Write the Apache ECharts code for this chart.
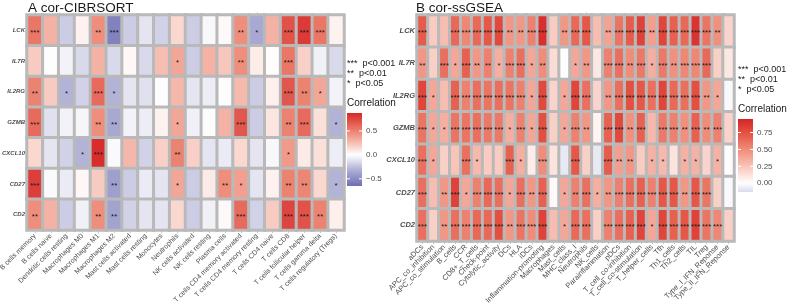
<!DOCTYPE html>
<html>
<head>
<meta charset="utf-8">
<script src="https://cdn.jsdelivr.net/npm/echarts@6/dist/echarts.min.js"></script>
<style>
  html, body { margin: 0; padding: 0; background: #fff; }
  #chart { width: 787px; height: 304px; }
</style>
</head>
<body>
<div id="chart"></div>
<script>
// genes (rows), shared by both panels
var genes = ['LCK', 'IL7R', 'IL2RG', 'GZMB', 'CXCL10', 'CD27', 'CD2'];

// panel A: CIBERSORT cell types
var cellsA = ['B cells memory', 'B cells naive', 'Dendritic cells resting', 'Macrophages M0', 'Macrophages M1',
    'Macrophages M2', 'Mast cells activated', 'Mast cells resting', 'Monocytes', 'Neutrophils',
    'NK cells activated', 'NK cells resting', 'Plasma cells', 'T cells CD4 memory activated',
    'T cells CD4 memory resting', 'T cells CD4 naive', 'T cells CD8', 'T cells follicular helper',
    'T cells gamma delta', 'T cells regulatory (Tregs)'];

var corA_LCK    = [0.55, 0.3, -0.2, 0.05, 0.45, -0.55, -0.2, -0.1, -0.18, 0.15, -0.2, -0.03, 0.02, 0.45, -0.35, 0.3, 0.7, 0.8, 0.55, 0.05];
var corA_IL7R   = [0.2, 0, -0.05, -0.15, 0.3, -0.15, 0.03, -0.15, 0.25, 0.35, -0.2, 0.3, 0.22, 0.45, 0.07, 0.01, 0.55, 0.18, -0.06, -0.15];
var corA_IL2RG  = [0.5, 0.2, -0.3, -0.18, 0.6, -0.3, -0.1, -0.12, 0, 0.28, -0.1, -0.07, 0, 0.27, -0.2, 0.06, 0.68, 0.5, 0.35, -0.05];
var corA_GZMB   = [0.6, -0.12, -0.05, -0.04, 0.45, -0.35, -0.05, -0.07, 0.05, 0.35, -0.06, -0.01, 0.3, 0.68, -0.2, 0.1, 0.5, 0.6, 0.12, -0.3];
var corA_CXCL10 = [0.15, -0.1, -0.18, -0.3, 0.85, -0.02, 0.28, -0.18, 0.18, 0.5, 0.18, -0.1, -0.08, 0.15, -0.1, -0.03, 0.4, 0.08, 0.12, -0.07];
var corA_CD27   = [0.78, -0.02, -0.08, 0.03, 0.2, -0.4, -0.2, -0.08, -0.1, 0.35, -0.2, 0.08, 0.45, 0.38, -0.1, 0.05, 0.5, 0.48, 0.15, -0.3];
var corA_CD2    = [0.45, 0.3, -0.2, -0.06, 0.45, -0.38, -0.18, -0.1, -0.1, 0.15, -0.2, -0.06, 0.02, 0.6, -0.18, 0.2, 0.75, 0.7, 0.5, 0.06];

// number of stars (3: p<0.001, 2: p<0.01, 1: p<0.05)
var sigA_LCK    = [3, 0, 0, 0, 2, 3, 0, 0, 0, 0, 0, 0, 0, 2, 1, 0, 3, 3, 3, 0];
var sigA_IL7R   = [0, 0, 0, 0, 0, 0, 0, 0, 0, 1, 0, 0, 0, 2, 0, 0, 3, 0, 0, 0];
var sigA_IL2RG  = [2, 0, 1, 0, 3, 1, 0, 0, 0, 0, 0, 0, 0, 0, 0, 0, 3, 2, 1, 0];
var sigA_GZMB   = [3, 0, 0, 0, 2, 2, 0, 0, 0, 1, 0, 0, 0, 3, 0, 0, 2, 3, 0, 1];
var sigA_CXCL10 = [0, 0, 0, 1, 3, 0, 0, 0, 0, 2, 0, 0, 0, 0, 0, 0, 1, 0, 0, 0];
var sigA_CD27   = [3, 0, 0, 0, 0, 2, 0, 0, 0, 1, 0, 0, 2, 1, 0, 0, 2, 2, 0, 1];
var sigA_CD2    = [2, 0, 0, 0, 2, 2, 0, 0, 0, 0, 0, 0, 0, 3, 0, 0, 3, 3, 2, 0];

// panel B: ssGSEA immune signatures
var cellsB = ['aDCs', 'APC_co_inhibition', 'APC_co_stimulation', 'B_cells', 'CCR', 'CD8+_T_cells', 'Check-point',
    'Cytolytic_activity', 'DCs', 'HLA', 'iDCs', 'Inflammation-promoting', 'Macrophages', 'Mast_cells',
    'MHC_class_I', 'Neutrophils', 'NK_cells', 'Parainflammation', 'pDCs', 'T_cell_co-inhibition',
    'T_cell_co-stimulation', 'T_helper_cells', 'Tfh', 'Th1_cells', 'Th2_cells', 'TIL', 'Treg',
    'Type_I_IFN_Reponse', 'Type_II_IFN_Reponse'];

var corB_LCK    = [0.7, 0.22, 0.28, 0.65, 0.52, 0.65, 0.72, 0.78, 0.45, 0.45, 0.55, 0.9, 0.22, 0.45, 0.65, 0.72, 0.28, 0.4, 0.6, 0.7, 0.82, 0.42, 0.8, 0.68, 0.65, 0.88, 0.6, 0.48, 0.18];
var corB_IL7R   = [0.45, 0.2, 0.62, 0.38, 0.68, 0.45, 0.55, 0.35, 0.55, 0.62, 0.38, 0.5, 0.15, 0.0, 0.38, 0.45, 0.1, 0.55, 0.62, 0.5, 0.58, 0.35, 0.58, 0.48, 0.52, 0.52, 0.65, 0.2, 0.1];
var corB_IL2RG  = [0.8, 0.38, 0.28, 0.68, 0.55, 0.62, 0.6, 0.62, 0.6, 0.55, 0.38, 0.78, 0.18, 0.38, 0.8, 0.62, 0.18, 0.45, 0.62, 0.75, 0.72, 0.62, 0.8, 0.65, 0.62, 0.75, 0.45, 0.38, -0.02];
var corB_GZMB   = [0.6, 0.38, 0.35, 0.6, 0.6, 0.62, 0.58, 0.58, 0.35, 0.55, 0.38, 0.75, 0.2, 0.38, 0.55, 0.45, 0.05, 0.68, 0.78, 0.48, 0.68, 0.3, 0.58, 0.55, 0.48, 0.68, 0.5, 0.55, 0.18];
var corB_CXCL10 = [0.62, 0.38, 0.2, 0.25, 0.62, 0.3, 0.22, 0.22, 0.68, 0.35, 0.08, 0.5, 0.12, -0.08, 0.72, 0.2, -0.08, 0.7, 0.42, 0.45, 0.22, 0.33, 0.3, 0.12, 0.33, 0.33, 0.18, 0.33, 0.0];
var corB_CD27   = [0.62, 0.28, 0.45, 0.82, 0.38, 0.55, 0.65, 0.62, 0.38, 0.62, 0.45, 0.68, 0.03, 0.38, 0.55, 0.62, 0.35, 0.45, 0.55, 0.62, 0.68, 0.55, 0.72, 0.72, 0.45, 0.72, 0.6, 0.2, -0.02];
var corB_CD2    = [0.62, 0.2, 0.45, 0.62, 0.55, 0.65, 0.65, 0.75, 0.45, 0.6, 0.5, 0.82, 0.28, 0.38, 0.65, 0.62, 0.2, 0.55, 0.62, 0.68, 0.8, 0.38, 0.8, 0.68, 0.72, 0.82, 0.6, 0.52, 0.2];

var sigB_LCK    = [3, 0, 0, 3, 3, 3, 3, 3, 2, 2, 3, 3, 0, 2, 3, 3, 0, 2, 3, 3, 3, 2, 3, 3, 3, 3, 3, 2, 0];
var sigB_IL7R   = [2, 0, 3, 1, 3, 2, 2, 1, 3, 3, 1, 2, 0, 0, 1, 2, 0, 3, 3, 2, 3, 1, 3, 2, 3, 3, 3, 0, 0];
var sigB_IL2RG  = [3, 1, 0, 3, 3, 3, 3, 3, 3, 3, 1, 3, 0, 1, 3, 3, 0, 2, 3, 3, 3, 3, 3, 3, 3, 3, 2, 1, 0];
var sigB_GZMB   = [3, 1, 1, 3, 3, 3, 3, 3, 1, 3, 1, 3, 0, 1, 3, 2, 0, 3, 3, 2, 3, 0, 3, 3, 2, 3, 2, 3, 0];
var sigB_CXCL10 = [3, 1, 0, 0, 3, 1, 0, 0, 3, 1, 0, 3, 0, 0, 3, 0, 0, 3, 2, 2, 0, 1, 1, 0, 1, 1, 0, 1, 0];
var sigB_CD27   = [3, 0, 2, 3, 1, 3, 3, 3, 1, 3, 2, 3, 0, 1, 2, 3, 1, 2, 3, 3, 3, 3, 3, 3, 2, 3, 3, 0, 0];
var sigB_CD2    = [3, 0, 2, 3, 3, 3, 3, 3, 2, 3, 3, 3, 0, 1, 3, 3, 0, 3, 3, 3, 3, 1, 3, 3, 3, 3, 3, 3, 0];

var ticksA = [0.5, 0, -0.5];
var ticksB = [0.75, 0.5, 0.25, 0];

var corA = [corA_LCK, corA_IL7R, corA_IL2RG, corA_GZMB, corA_CXCL10, corA_CD27, corA_CD2];
var sigA = [sigA_LCK, sigA_IL7R, sigA_IL2RG, sigA_GZMB, sigA_CXCL10, sigA_CD27, sigA_CD2];
var corB = [corB_LCK, corB_IL7R, corB_IL2RG, corB_GZMB, corB_CXCL10, corB_CD27, corB_CD2];
var sigB = [sigB_LCK, sigB_IL7R, sigB_IL2RG, sigB_GZMB, sigB_CXCL10, sigB_CD27, sigB_CD2];

var FONT = '"Liberation Sans", Arial, sans-serif';

// colour ramps (blue - white - red, white at 0)
var rangeA = [-0.65, 0.875];
var rangeB = [-0.13, 0.95];
var stopsA = [[-0.65, [110, 110, 180]], [-0.3, [178, 178, 216]], [0, [255, 255, 255]],
    [0.25, [246, 190, 178]], [0.5, [237, 130, 112]], [0.875, [214, 40, 40]]];
var stopsB = [[-0.13, [218, 218, 238]], [0, [255, 255, 255]], [0.25, [248, 196, 184]],
    [0.5, [240, 140, 122]], [0.75, [228, 80, 64]], [0.95, [214, 36, 40]]];

function colorAt(stops, v) {
    if (v <= stops[0][0]) return stops[0][1];
    for (var i = 1; i < stops.length; i++) {
        if (v <= stops[i][0]) {
            var a = stops[i - 1], b = stops[i];
            var t = (v - a[0]) / (b[0] - a[0]);
            return [0, 1, 2].map(function (k) { return Math.round(a[1][k] + (b[1][k] - a[1][k]) * t); });
        }
    }
    return stops[stops.length - 1][1];
}
function rgb(c) { return 'rgb(' + c[0] + ',' + c[1] + ',' + c[2] + ')'; }
function sampleColors(stops, range, n) {
    var out = [];
    for (var i = 0; i < n; i++) out.push(rgb(colorAt(stops, range[0] + (range[1] - range[0]) * i / (n - 1))));
    return out;
}
function gradient(stops, range) {
    var cs = [];
    for (var i = 0; i <= 30; i++) {
        var v = range[1] - (range[1] - range[0]) * i / 30;
        cs.push({offset: i / 30, color: rgb(colorAt(stops, v))});
    }
    return {type: 'linear', x: 0, y: 0, x2: 0, y2: 1, colorStops: cs};
}

function toData(cor) {
    var d = [];
    cor.forEach(function (row, y) {
        row.forEach(function (v, x) { d.push([x, y, v]); });
    });
    return d;
}

function stars(sig) {
    return function (p) { return '***'.slice(0, sig[p.data[1]][p.data[0]]); };
}

var GRAY = '#b9b9b9';

function colorbar(x, y, h, range, stops, ticks, digits, starY, titleY) {
    var w = 15;
    var els = [];
    var lines = ['***  p<0.001', '**  p<0.01', '*  p<0.05'];
    lines.forEach(function (s, i) {
        els.push({type: 'text', left: x, top: starY + i * 10 - 5,
            style: {text: s, font: '9px ' + FONT, fill: '#1a1a1a'}});
    });
    els.push({type: 'text', left: x, top: titleY - 6,
        style: {text: 'Correlation', font: '10px ' + FONT, fill: '#1a1a1a'}});
    els.push({type: 'rect', shape: {x: x, y: y, width: w, height: h}, style: {fill: gradient(stops, range)}});
    ticks.forEach(function (t) {
        var ty = y + (range[1] - t) / (range[1] - range[0]) * h;
        els.push({type: 'line', shape: {x1: x, y1: ty, x2: x + 3, y2: ty}, style: {stroke: '#fff', lineWidth: 1}});
        els.push({type: 'line', shape: {x1: x + w - 3, y1: ty, x2: x + w, y2: ty}, style: {stroke: '#fff', lineWidth: 1}});
        els.push({type: 'text', x: x + w + 4, y: ty,
            style: {text: (t < 0 ? '\u2212' : '') + Math.abs(t).toFixed(digits), font: '8px ' + FONT,
                fill: '#4d4d4d', textVerticalAlign: 'middle'}});
    });
    return els;
}

function xAxisFor(idx, cats, size) {
    return {
        gridIndex: idx, type: 'category', data: cats,
        axisLine: {show: false},
        axisTick: {show: true, alignWithLabel: true, length: 3, lineStyle: {color: '#c8c8c8'}},
        axisLabel: {rotate: 45, interval: 0, fontSize: size, color: '#4d4d4d', margin: 5, fontFamily: FONT},
        splitLine: {show: false}
    };
}
function topAxisFor(idx, cats) {
    return {
        gridIndex: idx, type: 'category', data: cats, position: 'top',
        axisLine: {show: false}, axisLabel: {show: false},
        axisTick: {show: true, alignWithLabel: true, length: 3, lineStyle: {color: '#d0d0d0'}}
    };
}
function yAxisFor(idx, size) {
    return {
        gridIndex: idx, type: 'category', data: genes, inverse: true,
        axisLine: {show: false}, axisTick: {show: false},
        axisLabel: {fontSize: size, fontStyle: 'italic', fontWeight: 'bold', color: '#4d4d4d', margin: 2, fontFamily: FONT}
    };
}
function heat(idx, cor, sig) {
    return {
        type: 'heatmap', xAxisIndex: idx, yAxisIndex: idx,
        data: toData(cor),
        itemStyle: {borderColor: GRAY, borderWidth: 3},
        label: {show: true, formatter: stars(sig), fontSize: 8, color: '#1a1a1a', offset: [0, 2], fontFamily: FONT},
        emphasis: {disabled: true}
    };
}

var chart = echarts.init(document.getElementById('chart'), null, {renderer: 'canvas'});
var option = {
    animation: false,
    textStyle: {fontFamily: FONT},
    grid: [
        {left: 27, top: 15, width: 317, height: 215, show: true, borderColor: GRAY, borderWidth: 2,
            backgroundColor: GRAY, containLabel: false, outerBoundsMode: 'none'},
        {left: 417, top: 15, width: 317, height: 226, show: true, borderColor: GRAY, borderWidth: 2,
            backgroundColor: GRAY, containLabel: false, outerBoundsMode: 'none'}
    ],
    xAxis: [xAxisFor(0, cellsA, 7), xAxisFor(1, cellsB, 7.5), topAxisFor(0, cellsA), topAxisFor(1, cellsB)],
    yAxis: [yAxisFor(0, 6), yAxisFor(1, 7.5)],
    visualMap: [
        {type: 'continuous', show: false, seriesIndex: 0, dimension: 2, min: rangeA[0], max: rangeA[1],
            inRange: {color: sampleColors(stopsA, rangeA, 80)}},
        {type: 'continuous', show: false, seriesIndex: 1, dimension: 2, min: rangeB[0], max: rangeB[1],
            inRange: {color: sampleColors(stopsB, rangeB, 80)}}
    ],
    series: [heat(0, corA, sigA), heat(1, corB, sigB)],
    graphic: [
        {type: 'text', left: 28, top: 1, style: {text: 'A cor-CIBRSORT', font: '13.5px ' + FONT, fill: '#1a1a1a'}},
        {type: 'text', left: 416, top: 1, style: {text: 'B cor-ssGSEA', font: '13.5px ' + FONT, fill: '#1a1a1a'}}
    ].concat(colorbar(347, 113, 73, rangeA, stopsA, ticksA, 1, 64, 104))
     .concat(colorbar(738, 119, 73, rangeB, stopsB, ticksB, 2, 70, 110))
};
chart.setOption(option);
</script>
</body>
</html>
